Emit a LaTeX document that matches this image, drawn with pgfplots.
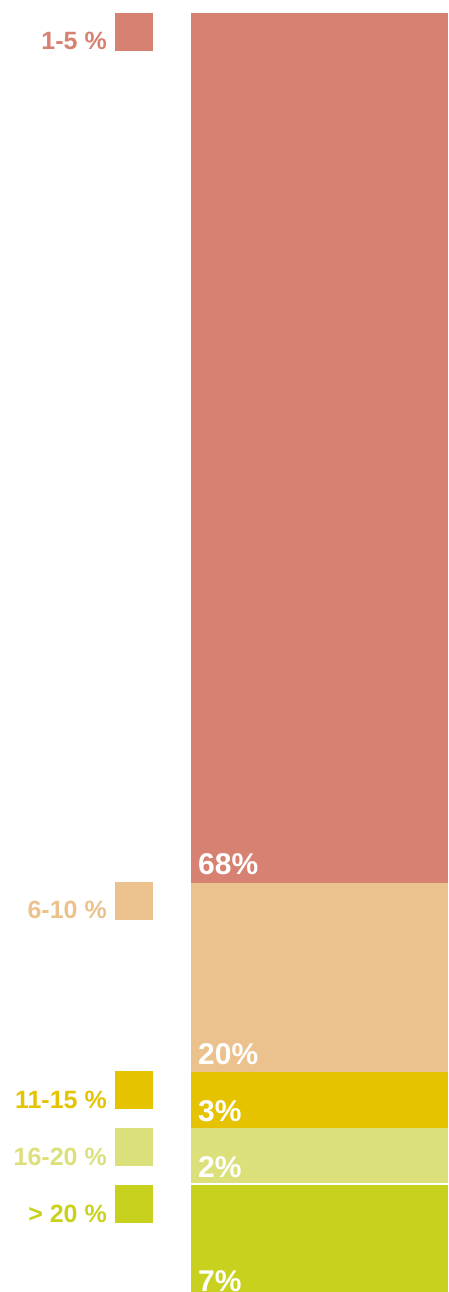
\documentclass[border=0pt]{standalone}
\usepackage{pgfplots}
\pgfplotsset{compat=1.18}
\usepackage{fontspec}
\setmainfont{Liberation Sans}
\definecolor{cA}{HTML}{D78172}
\definecolor{cB}{HTML}{EBC18D}
\definecolor{cC}{HTML}{E6C300}
\definecolor{cD}{HTML}{DCE07A}
\definecolor{cE}{HTML}{C9D11F}
\tikzset{
  vlab/.style={anchor=base west, inner sep=0pt, text=white, font=\fontsize{30}{34}\selectfont\bfseries},
  sq/.style={anchor=north east, inner sep=0pt, minimum size=38pt},
  llab/.style={anchor=base east, inner sep=0pt, font=\fontsize{25}{29}\selectfont\bfseries},
}
\begin{document}
\begin{tikzpicture}
\useasboundingbox (0,0) rectangle (448pt,1292pt);
\begin{axis}[
  at={(191pt,0pt)}, anchor=south west,
  scale only axis, width=257pt, height=1279pt,
  xmin=0, xmax=1, ymin=0, ymax=100,
  axis lines=none, ticks=none, clip=false,
  ybar stacked, bar width=1,
]
% bottom to top: >20, 16-20, 11-15, 6-10, 1-5 (visual heights)
\addplot[fill=cE, draw=none] coordinates {(0.5,8.44)};
\addplot[fill=cD, draw=none] coordinates {(0.5,4.38)};
\addplot[fill=cC, draw=none] coordinates {(0.5,4.38)};
\addplot[fill=cB, draw=none] coordinates {(0.5,14.78)};
\addplot[fill=cA, draw=none] coordinates {(0.5,68.02)};
\end{axis}
\begin{axis}[
  at={(191pt,0pt)}, anchor=south west,
  scale only axis, width=257pt, height=1279pt,
  xmin=0, xmax=1, ymin=0, ymax=100,
  axis lines=none, ticks=none, clip=false,
]
\draw[white, line width=1.2pt] (axis cs:0,8.44) -- (axis cs:1,8.44);
% bar value labels
\node[vlab] at ([xshift=7pt,yshift=8pt]axis cs:0,31.98) {68\%};
\node[vlab] at ([xshift=7pt,yshift=8pt]axis cs:0,17.20) {20\%};
\node[vlab] at ([xshift=7pt,yshift=7pt]axis cs:0,12.82) {3\%};
\node[vlab] at ([xshift=7pt,yshift=7pt]axis cs:0,8.44) {2\%};
\node[vlab] at ([xshift=7pt,yshift=1pt]axis cs:0,0) {7\%};
% legend squares
\node[sq, fill=cA] at ([xshift=-38pt]axis cs:0,100) {};
\node[sq, fill=cB] at ([xshift=-38pt,yshift=1pt]axis cs:0,31.98) {};
\node[sq, fill=cC] at ([xshift=-38pt,yshift=1pt]axis cs:0,17.20) {};
\node[sq, fill=cD] at ([xshift=-38pt]axis cs:0,12.82) {};
\node[sq, fill=cE] at ([xshift=-38pt,yshift=-1pt]axis cs:0,8.44) {};
% legend labels
\node[llab, text=cA] at ([xshift=-84pt,yshift=-37pt]axis cs:0,100) {1-5 \%};
\node[llab, text=cB] at ([xshift=-84pt,yshift=-36pt]axis cs:0,31.98) {6-10 \%};
\node[llab, text=cC] at ([xshift=-84pt,yshift=-36pt]axis cs:0,17.20) {11-15 \%};
\node[llab, text=cD] at ([xshift=-84pt,yshift=-37pt]axis cs:0,12.82) {16-20 \%};
\node[llab, text=cE] at ([xshift=-84pt,yshift=-38pt]axis cs:0,8.44) {> 20 \%};
\end{axis}
\end{tikzpicture}
\end{document}
